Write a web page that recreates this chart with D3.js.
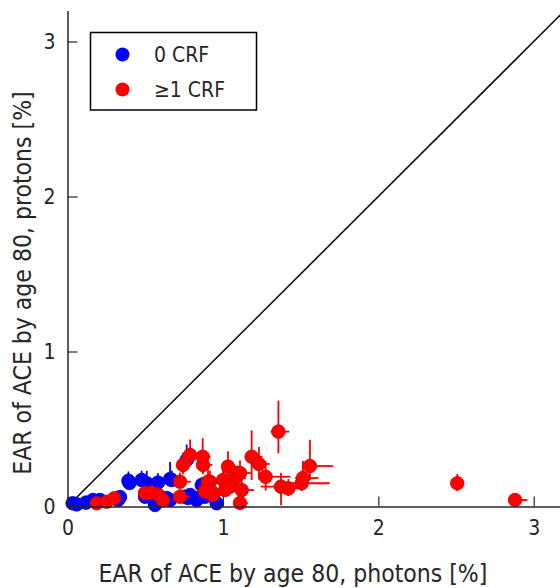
<!DOCTYPE html>
<html>
<head>
<meta charset="utf-8">
<script src="https://cdn.jsdelivr.net/npm/d3@7"></script>
<style>
  body { margin: 0; background: #fff; }
  svg text { font-family: "DejaVu Sans Condensed", "DejaVu Sans", sans-serif; fill: #262626; }
</style>
</head>
<body>
<svg width="560" height="588"></svg>
<script>
// tick values for both axes
const tickVals = [0, 1, 2, 3];

// 0 CRF group (blue)
const blueX = [0.033, 0.059, 0.119, 0.164, 0.209, 0.325, 0.338, 0.392, 0.399, 0.477, 0.510, 0.563, 0.563, 0.582, 0.660, 0.582, 0.638, 0.499, 0.756, 0.789, 0.840, 0.864, 0.885, 0.767, 0.671, 0.660, 0.831, 0.775, 0.960];
const blueY = [0.021, 0.014, 0.025, 0.042, 0.042, 0.042, 0.061, 0.166, 0.152, 0.171, 0.150, 0.010, 0.023, 0.154, 0.177, 0.074, 0.055, 0.063, 0.063, 0.074, 0.055, 0.139, 0.063, 0.300, 0.171, 0.042, 0.042, 0.055, 0.021];
const blueXLo = [0.01, 0.01, 0.02, 0.02, 0.02, 0.02, 0.02, 0.02, 0.02, 0.03, 0.03, 0.02, 0.02, 0.03, 0.03, 0.03, 0.03, 0.03, 0.03, 0.03, 0.03, 0.03, 0.03, 0.03, 0.03, 0.03, 0.03, 0.03, 0.02];
const blueXHi = [0.02, 0.02, 0.03, 0.03, 0.03, 0.03, 0.03, 0.03, 0.03, 0.04, 0.04, 0.03, 0.03, 0.05, 0.05, 0.04, 0.04, 0.04, 0.05, 0.05, 0.05, 0.08, 0.05, 0.05, 0.05, 0.04, 0.05, 0.05, 0.03];
const blueYLo = [0.01, 0.01, 0.01, 0.02, 0.02, 0.02, 0.02, 0.04, 0.04, 0.04, 0.04, 0.01, 0.01, 0.04, 0.05, 0.03, 0.02, 0.03, 0.03, 0.03, 0.02, 0.04, 0.03, 0.065, 0.04, 0.02, 0.02, 0.02, 0.01];
const blueYHi = [0.02, 0.02, 0.02, 0.03, 0.03, 0.03, 0.03, 0.06, 0.05, 0.06, 0.08, 0.02, 0.02, 0.06, 0.11, 0.04, 0.03, 0.04, 0.04, 0.04, 0.03, 0.05, 0.04, 0.10, 0.06, 0.03, 0.03, 0.03, 0.02];

// >=1 CRF group (red)
const redX = [0.188, 0.252, 0.301, 0.499, 0.542, 0.582, 0.614, 0.724, 0.724, 0.789, 0.743, 0.872, 0.870, 0.885, 0.917, 0.928, 1.001, 1.014, 1.033, 1.078, 1.110, 1.046, 1.121, 1.110, 0.904, 0.936, 0.885, 1.185, 1.232, 1.275, 1.357, 1.374, 1.421, 1.507, 1.515, 1.560, 2.508, 2.880];
const redY = [0.021, 0.031, 0.053, 0.087, 0.089, 0.074, 0.042, 0.063, 0.160, 0.332, 0.268, 0.268, 0.321, 0.106, 0.160, 0.095, 0.171, 0.106, 0.257, 0.184, 0.216, 0.128, 0.106, 0.023, 0.160, 0.074, 0.095, 0.321, 0.274, 0.192, 0.483, 0.128, 0.117, 0.150, 0.184, 0.261, 0.150, 0.042];
const redXLo = [0.02, 0.02, 0.02, 0.03, 0.03, 0.03, 0.03, 0.03, 0.03, 0.03, 0.03, 0.04, 0.03, 0.03, 0.04, 0.03, 0.04, 0.04, 0.04, 0.04, 0.04, 0.04, 0.04, 0.03, 0.04, 0.03, 0.03, 0.03, 0.04, 0.04, 0.05, 0.13, 0.05, 0.08, 0.05, 0.05, 0.02, 0.04];
const redXHi = [0.02, 0.03, 0.03, 0.05, 0.06, 0.05, 0.05, 0.06, 0.07, 0.05, 0.05, 0.06, 0.05, 0.08, 0.06, 0.06, 0.07, 0.08, 0.08, 0.07, 0.07, 0.07, 0.08, 0.05, 0.07, 0.06, 0.06, 0.07, 0.07, 0.16, 0.07, 0.12, 0.08, 0.18, 0.10, 0.15, 0.02, 0.08];
const redYLo = [0.02, 0.02, 0.02, 0.03, 0.03, 0.03, 0.03, 0.03, 0.04, 0.065, 0.06, 0.06, 0.05, 0.04, 0.04, 0.04, 0.05, 0.04, 0.08, 0.05, 0.06, 0.04, 0.05, 0.02, 0.05, 0.04, 0.04, 0.15, 0.10, 0.09, 0.14, 0.12, 0.05, 0.05, 0.06, 0.09, 0.05, 0.02];
const redYHi = [0.02, 0.03, 0.03, 0.04, 0.05, 0.04, 0.04, 0.05, 0.06, 0.10, 0.08, 0.09, 0.12, 0.06, 0.07, 0.06, 0.08, 0.07, 0.10, 0.08, 0.08, 0.06, 0.07, 0.04, 0.08, 0.06, 0.06, 0.17, 0.11, 0.10, 0.20, 0.09, 0.06, 0.08, 0.11, 0.17, 0.06, 0.02];

const legendLabels = ["0 CRF", "\u22651 CRF"];
const groupColors = ["#0000ff", "#ff0000"];

let svg = d3.select("svg");
let x = d3.scaleLinear().domain([0, 3.2]).range([67.5, 564.8]);
let y = d3.scaleLinear().domain([0, 3.2]).range([506.5, 10.5]);

// identity line
svg.append("line")
    .attr("x1", x(0)).attr("y1", y(0))
    .attr("x2", x(3.2)).attr("y2", y(3.2))
    .attr("stroke", "#000").attr("stroke-width", 1.5);

function toPoints(xs, ys, xl, xh, yl, yh) {
    return xs.map((v, i) => ({x: v, y: ys[i], xl: xl[i], xh: xh[i], yl: yl[i], yh: yh[i]}));
}

let groups = [
    toPoints(blueX, blueY, blueXLo, blueXHi, blueYLo, blueYHi),
    toPoints(redX, redY, redXLo, redXHi, redYLo, redYHi)
];

groups.forEach((pts, gi) => {
    let col = groupColors[gi];
    let g = svg.append("g");
    g.selectAll("line.ey").data(pts).enter().append("line")
        .attr("x1", d => x(d.x)).attr("x2", d => x(d.x))
        .attr("y1", d => y(d.y - d.yl)).attr("y2", d => y(d.y + d.yh))
        .attr("stroke", col).attr("stroke-width", 1.8);
    g.selectAll("line.ex").data(pts).enter().append("line")
        .attr("y1", d => y(d.y)).attr("y2", d => y(d.y))
        .attr("x1", d => x(d.x - d.xl)).attr("x2", d => x(d.x + d.xh))
        .attr("stroke", col).attr("stroke-width", 1.8);
    g.selectAll("circle").data(pts).enter().append("circle")
        .attr("cx", d => x(d.x)).attr("cy", d => y(d.y))
        .attr("r", 6.8)
        .attr("fill", col)
        .attr("stroke", d3.color(col).darker(0.6)).attr("stroke-width", 0.8);
});

// axes, MATLAB style: ticks pointing inwards
let xAxis = d3.axisBottom(x).tickValues(tickVals).tickFormat(d3.format("d")).tickSizeInner(-10).tickSizeOuter(0).tickPadding(14);
let yAxis = d3.axisLeft(y).tickValues(tickVals).tickFormat(d3.format("d")).tickSizeInner(-10).tickSizeOuter(0).tickPadding(12);

let gx = svg.append("g").attr("transform", `translate(0,${y(0)})`).call(xAxis);
let gy = svg.append("g").attr("transform", `translate(${x(0)},0)`).call(yAxis);
[gx, gy].forEach(a => {
    a.select(".domain").attr("stroke", "#262626").attr("stroke-width", 1.5);
    a.selectAll(".tick line").attr("stroke", "#262626").attr("stroke-width", 1.2);
    a.selectAll(".tick text").style("font-size", "21px").attr("fill", "#262626");
});

svg.append("text")
    .attr("x", 293).attr("y", 582)
    .attr("text-anchor", "middle")
    .style("font-size", "24.5px")
    .text("EAR of ACE by age 80, photons [%]");

svg.append("text")
    .attr("transform", "translate(31,283) rotate(-90)")
    .attr("text-anchor", "middle")
    .style("font-size", "24.5px")
    .text("EAR of ACE by age 80, protons [%]");

// legend
let legend = svg.append("g");
legend.append("rect")
    .attr("x", 90.5).attr("y", 32.5).attr("width", 166).attr("height", 77.5)
    .attr("fill", "#fff").attr("stroke", "#000").attr("stroke-width", 1.5);
legendLabels.forEach((lab, i) => {
    legend.append("circle")
        .attr("cx", 122.5).attr("cy", 54.5 + i * 35).attr("r", 7)
        .attr("fill", groupColors[i]);
    legend.append("text")
        .attr("x", 154).attr("y", 62 + i * 35)
        .style("font-size", "21px")
        .text(lab);
});
</script>
</body>
</html>
